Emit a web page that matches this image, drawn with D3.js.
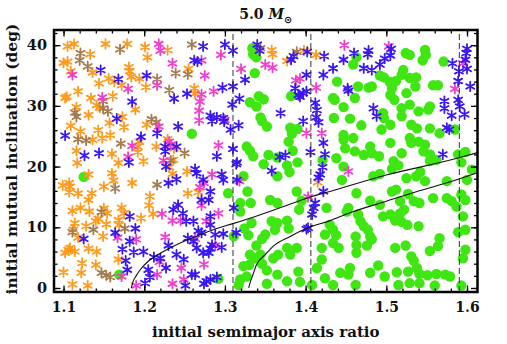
<!DOCTYPE html>
<html>
<head>
<meta charset="utf-8">
<script src="https://cdn.jsdelivr.net/npm/d3@7"></script>
<style>
  body { margin: 0; background: #fff; }
  svg { display: block; }
  text { font-family: "DejaVu Serif", serif; font-weight: bold; fill: #111; }
</style>
</head>
<body>
<svg id="chart" width="507" height="344"></svg>
<script>
// [semimajor axis ratio, mutual inclination in deg]
const orangeStars = [
  [1.105,39.8],[1.113,40.2],[1.152,40.2],[1.179,40.2],[1.201,39.7],[1.229,39.2],[1.133,38.5],[1.100,37.1],
  [1.105,37.3],[1.136,35.5],[1.204,38.0],[1.181,36.4],[1.182,35.7],[1.184,34.8],[1.109,35.7],[1.144,33.7],
  [1.156,34.5],[1.163,34.0],[1.172,33.4],[1.194,34.5],[1.255,36.1],[1.118,32.4],[1.102,31.3],[1.104,31.5],
  [1.134,31.3],[1.161,31.6],[1.202,33.1],[1.116,29.8],[1.141,30.1],[1.145,29.7],[1.189,29.4],[1.131,28.5],
  [1.157,27.2],[1.173,28.2],[1.203,26.9],[1.109,26.7],[1.121,25.8],[1.143,26.0],[1.175,26.5],[1.158,25.2],
  [1.148,24.7],[1.136,24.4],[1.194,24.1],[1.229,24.5],[1.192,23.3],[1.215,23.3],[1.237,23.0],[1.116,22.6],
  [1.160,22.1],[1.192,22.4],[1.117,20.6],[1.168,20.6],[1.236,21.1],
  [1.199,20.9],[1.231,19.9],[1.235,18.8],[1.253,19.2],[1.131,18.7],[1.099,16.9],[1.107,17.3],[1.108,16.7],
  [1.107,15.8],[1.118,15.6],[1.135,15.6],[1.131,14.5],[1.150,16.7],[1.162,17.7],[1.185,17.3],[1.207,15.1],
  [1.206,13.6],[1.254,15.6],[1.111,12.7],[1.121,13.2],[1.132,12.6],[1.150,13.1],[1.154,12.3],[1.172,13.2],
  [1.175,12.3],[1.168,11.2],[1.196,11.5],[1.211,12.2],[1.114,10.7],[1.128,10.2],[1.140,11.0],[1.143,11.4],
  [1.153,10.5],[1.112,9.6],[1.118,8.3],[1.149,8.5],[1.169,10.4],[1.102,5.8],[1.106,6.3],[1.108,6.6],
  [1.114,6.0],[1.131,6.5],[1.141,6.0],[1.123,4.1],[1.140,3.8],[1.122,2.5],[1.100,2.6],[1.111,0.6],
  [1.130,0.4],[1.168,4.7],[1.160,18.9],
  [1.262,32.9],[1.263,32.0],[1.413,38.4],[1.358,39.2],[1.359,38.5],[1.377,37.4],[1.398,39.1],
  [1.267,15.8],[1.415,17.4]
];

const brownStars = [
  [1.170,39.3],[1.121,38.7],[1.120,37.5],[1.130,36.5],[1.216,34.4],[1.239,35.4],[1.254,35.2],[1.149,30.8],
  [1.231,32.6],[1.114,28.9],[1.116,28.2],[1.149,29.6],[1.155,29.1],[1.209,27.8],[1.215,27.3],[1.118,24.5],
  [1.128,24.3],[1.171,23.8],[1.250,22.2],[1.233,21.0],[1.164,16.4],[1.216,17.0],[1.147,12.5],[1.137,9.6],
  [1.111,9.2],[1.176,9.8],[1.147,2.5],[1.153,2.1],[1.158,1.8],[1.259,40.1],[1.344,39.5],[1.389,38.9]
];

const magentaStars = [
  [1.218,40.2],[1.220,39.1],[1.235,37.0],[1.111,35.1],[1.216,33.4],[1.148,31.4],[1.180,32.8],[1.218,26.6],
  [1.231,24.1],[1.233,23.6],[1.185,23.4],[1.180,21.6],[1.224,21.0],
  [1.222,12.2],[1.235,11.1],[1.245,11.1],[1.167,8.3],[1.190,8.0],[1.226,8.4],[1.172,1.9],[1.219,4.3],
  [1.216,2.2],[1.190,0.4],[1.235,0.7],[1.249,1.4],[1.246,3.3],
  [1.295,38.4],[1.271,37.5],[1.275,35.0],[1.320,36.1],[1.286,32.4],[1.271,31.9],[1.269,30.7],[1.268,29.2],
  [1.268,27.6],[1.300,27.7],[1.350,36.8],[1.359,36.3],[1.388,34.2],[1.393,34.5],[1.413,33.0],[1.401,25.5],
  [1.420,25.5],[1.292,23.5],
  [1.274,17.3],[1.284,18.7],[1.269,16.6],[1.271,13.6],[1.318,17.6],[1.403,15.0],[1.292,12.3],[1.277,11.0],
  [1.263,8.1],[1.288,7.0],[1.274,3.9],
  [1.448,40.0],[1.503,39.8],[1.595,37.0],[1.585,32.8],[1.453,19.2]
];

const blueStars = [
  [1.262,37.5],[1.146,35.9],[1.168,34.4],[1.203,35.0],[1.237,31.2],[1.253,32.0],[1.185,30.7],[1.166,27.9],
  [1.242,26.6],[1.102,25.1],[1.196,24.9],[1.216,25.5],[1.226,23.3],[1.240,23.3],[1.126,21.8],[1.144,22.2],
  [1.226,22.5],[1.181,20.7],
  [1.227,20.0],[1.240,17.9],[1.230,17.3],[1.182,11.8],[1.236,12.9],[1.242,13.7],[1.248,12.3],[1.252,11.0],
  [1.189,9.8],[1.164,9.1],[1.125,8.1],[1.182,7.7],[1.230,7.0],[1.254,8.2],[1.261,7.7],[1.240,5.5],
  [1.249,4.7],[1.173,6.4],[1.187,5.9],[1.199,6.0],[1.177,4.5],[1.179,3.0],[1.212,5.1],[1.207,1.8],
  [1.205,3.0],[1.201,0.8],[1.251,0.4],[1.259,2.2],[1.227,3.3],[1.220,4.9],
  [1.266,37.3],[1.273,39.8],[1.300,40.1],[1.310,39.1],[1.325,34.3],[1.310,33.2],[1.297,33.0],[1.318,31.2],
  [1.309,30.2],[1.282,28.4],[1.284,27.5],[1.290,28.1],[1.298,28.0],[1.299,27.4],[1.369,28.8],[1.397,27.5],
  [1.317,26.8],[1.307,26.1],[1.412,30.5],[1.414,29.3],[1.413,28.1],[1.416,27.3],[1.401,35.1],[1.422,35.1],
  [1.423,38.2],[1.340,40.1],[1.343,39.1],[1.382,37.6],[1.385,38.2],[1.402,38.9],[1.387,32.9],[1.391,31.8],
  [1.397,32.1],[1.401,32.4],[1.393,31.5],[1.290,21.7],[1.310,22.9],[1.315,20.7],[1.375,21.9],[1.368,21.6],
  [1.406,22.4],[1.422,23.9],[1.424,22.0],
  [1.263,19.6],[1.265,18.9],[1.273,17.8],[1.296,18.7],[1.298,17.8],[1.282,15.9],[1.271,14.5],[1.280,14.5],
  [1.314,20.4],[1.315,17.8],[1.311,13.2],[1.314,9.1],[1.358,19.3],[1.421,19.9],[1.418,18.7],[1.416,18.2],
  [1.422,15.9],[1.412,14.0],[1.410,13.2],[1.408,12.1],[1.403,9.9],[1.401,9.7],[1.282,11.8],[1.282,10.4],
  [1.261,11.0],[1.267,9.4],[1.271,9.1],[1.288,8.8],[1.298,8.9],[1.284,7.1],[1.282,6.5],[1.280,5.8],
  [1.296,6.7],[1.265,6.6],[1.273,5.8],[1.263,2.2],[1.277,1.1],[1.274,0.7],[1.282,1.4],[1.290,1.8],
  [1.506,39.4],[1.460,38.7],[1.478,39.1],[1.477,38.5],[1.447,37.6],[1.434,36.2],[1.472,36.2],[1.482,35.9],
  [1.492,36.8],[1.498,37.8],[1.505,38.3],[1.582,37.0],[1.600,39.4],[1.599,38.7],[1.598,37.6],[1.600,36.1],
  [1.590,35.7],[1.589,34.1],[1.604,33.2],[1.589,31.0],[1.591,29.9],[1.597,28.6],[1.572,30.8],[1.572,29.6],
  [1.581,28.4],[1.575,26.4],[1.578,26.1],[1.452,32.9],[1.453,32.5],[1.484,29.6],[1.488,28.3],[1.570,22.0]
];

const greenDots = [
  [1.259,25.4],[1.125,18.3],[1.169,2.2],[1.292,1.5],
  [1.337,35.4],[1.331,30.6],[1.339,29.9],[1.342,31.6],[1.348,31.1],[1.344,28.1],[1.346,27.5],[1.352,26.6],
  [1.381,26.4],[1.390,26.2],[1.383,25.4],[1.379,24.1],[1.334,39.5],[1.335,38.5],[1.339,38.0],[1.382,31.6],
  [1.327,23.3],[1.331,22.6],[1.335,21.7],[1.354,21.9],[1.365,21.5],[1.384,22.6],[1.421,21.1],
  [1.348,20.4],[1.377,20.2],[1.380,19.1],[1.390,20.7],[1.365,18.4],[1.323,18.4],[1.328,15.9],[1.304,15.6],
  [1.319,14.0],[1.332,14.0],[1.319,12.6],[1.356,14.5],[1.365,14.0],[1.389,15.9],[1.395,14.4],[1.392,12.9],
  [1.333,10.7],[1.324,9.8],[1.358,11.0],[1.365,10.7],[1.377,11.1],[1.379,9.8],[1.362,9.6],[1.350,8.8],
  [1.346,8.1],[1.311,8.5],[1.329,8.7],[1.339,7.0],[1.344,5.5],[1.337,4.9],[1.331,5.5],[1.323,3.6],
  [1.330,3.8],[1.346,4.0],[1.352,2.9],[1.327,1.9],[1.319,1.4],[1.317,0.5],[1.352,0.7],[1.365,2.2],
  [1.366,5.5],[1.381,5.5],[1.377,6.6],[1.389,6.6],[1.391,2.7],[1.393,1.0],[1.377,1.1],[1.360,4.9],
  [1.426,13.2],[1.420,6.6],[1.420,4.7],[1.424,8.8],[1.414,3.3],[1.424,1.6],[1.408,0.5],
  [1.463,38.0],[1.459,36.8],[1.524,38.7],[1.529,38.4],[1.548,39.2],[1.549,38.4],[1.545,37.5],[1.571,37.3],
  [1.585,26.1],[1.439,34.0],[1.434,31.3],[1.465,33.2],[1.478,33.0],[1.482,33.2],[1.529,34.6],[1.537,34.7],
  [1.536,33.2],[1.558,33.4],[1.564,33.4],[1.521,35.9],[1.519,35.1],[1.492,35.0],[1.497,34.7],[1.504,34.0],
  [1.512,34.1],[1.507,32.9],[1.505,31.8],[1.510,31.0],[1.436,31.0],[1.447,29.8],[1.461,31.3],[1.435,28.0],
  [1.496,28.8],[1.497,28.0],[1.519,29.6],[1.519,28.3],[1.529,30.2],[1.554,29.9],[1.552,29.4],[1.540,29.1],
  [1.455,27.9],[1.469,26.8],[1.494,26.1],[1.505,26.9],[1.531,26.9],[1.538,26.3],[1.554,26.3],[1.566,25.5],
  [1.447,25.2],[1.447,24.4],[1.459,24.7],[1.529,24.7],[1.531,23.9],[1.540,24.1],[1.480,23.3],[1.482,22.2],
  [1.449,23.0],[1.461,22.5],[1.505,23.9],[1.519,22.2],[1.548,23.6],[1.546,22.5],[1.554,22.0],[1.472,21.9],
  [1.589,22.0],[1.598,22.4],[1.438,21.4],[1.491,21.7],[1.509,20.9],[1.562,21.1],[1.525,32.1],
  [1.447,20.0],[1.445,17.8],[1.484,18.4],[1.492,18.8],[1.507,19.6],[1.515,20.2],[1.525,18.1],[1.537,18.4],
  [1.542,19.1],[1.548,17.6],[1.554,20.9],[1.575,17.6],[1.593,20.7],[1.600,17.8],[1.606,19.5],[1.463,15.6],
  [1.480,14.4],[1.492,13.7],[1.507,15.9],[1.512,16.2],[1.517,14.3],[1.527,15.5],[1.534,14.3],[1.541,14.0],
  [1.558,14.8],[1.575,14.8],[1.581,14.3],[1.593,15.4],[1.598,14.5],[1.430,10.4],[1.434,9.6],[1.438,8.7],
  [1.434,7.4],[1.441,6.6],[1.451,12.6],[1.453,13.2],[1.465,12.1],[1.468,11.0],[1.472,10.2],[1.477,9.6],
  [1.480,8.5],[1.482,8.0],[1.476,7.0],[1.462,8.5],[1.463,7.1],[1.463,5.8],[1.496,11.8],[1.505,12.1],
  [1.511,11.1],[1.517,12.3],[1.522,12.9],[1.519,10.9],[1.526,10.4],[1.540,10.2],[1.511,6.6],[1.524,7.0],
  [1.531,5.2],[1.534,4.5],[1.527,2.7],[1.538,3.3],[1.541,2.3],[1.551,2.1],[1.562,2.3],[1.573,2.2],
  [1.595,4.9],[1.598,6.3],[1.566,8.2],[1.564,6.9],[1.554,6.1],[1.589,9.2],[1.598,9.6],[1.587,13.4],
  [1.595,11.8],[1.443,2.5],[1.455,3.3],[1.453,2.2],[1.462,0.5],[1.480,2.5],[1.490,3.7],[1.498,1.9],
  [1.513,2.6],[1.515,0.5],[1.529,0.8],[1.541,0.8],[1.560,0.4],[1.579,1.9],[1.593,0.4],[1.434,0.5]
];

// two stability boundaries
const upperCurve = [
  [1.184,0],[1.186,1.0],[1.190,2.0],[1.195,3.0],[1.205,4.4],[1.216,5.4],[1.235,6.8],[1.253,7.9],
  [1.270,8.8],[1.290,9.8],[1.310,10.6],[1.331,11.5],[1.370,13.3],[1.406,15.0],[1.430,15.9],[1.500,18.6],
  [1.589,21.4],[1.613,22.3]
];
const lowerCurve = [
  [1.3295,0],[1.331,0.8],[1.335,2.3],[1.339,3.8],[1.350,5.5],[1.360,6.9],[1.381,8.5],[1.401,9.8],
  [1.430,11.1],[1.455,12.4],[1.500,14.3],[1.538,15.9],[1.572,17.2],[1.613,19.0]
];
const dashedAt = [1.310, 1.4065, 1.5905];

const xTicks = [1.1, 1.2, 1.3, 1.4, 1.5, 1.6];
const yTicks = [0, 10, 20, 30, 40];
const xMinor = d3.range(1.1, 1.6101, 0.02);
const yMinor = d3.range(0, 42.1, 2);

const svg = d3.select("#chart");
const box = { left: 54, right: 477.5, top: 30, bottom: 292 };

const x = d3.scaleLinear().domain([1.0882, 1.613]).range([box.left, box.right]);
const y = d3.scaleLinear().domain([-0.66, 42.5]).range([box.bottom, box.top]);

svg.append("defs").append("clipPath").attr("id", "plotClip")
  .append("rect")
  .attr("x", box.left).attr("y", box.top)
  .attr("width", box.right - box.left).attr("height", box.bottom - box.top);

const plot = svg.append("g").attr("clip-path", "url(#plotClip)");

// green circles first, stars on top
plot.append("g").selectAll("circle")
  .data(greenDots)
  .join("circle")
  .attr("cx", d => x(d[0]))
  .attr("cy", d => y(d[1]))
  .attr("r", 5.2)
  .attr("fill", "#3fe612");

const star = d3.symbol().type(d3.symbolAsterisk).size(62);

function drawStars(data, color) {
  plot.append("g").selectAll("path")
    .data(data)
    .join("path")
    .attr("transform", d => `translate(${x(d[0])},${y(d[1])})`)
    .attr("d", star)
    .attr("fill", "none")
    .attr("stroke", color)
    .attr("stroke-width", 1.8)
    .attr("stroke-linecap", "round");
}

drawStars(orangeStars, "#ff9a1c");
drawStars(brownStars, "#a47a4e");
drawStars(magentaStars, "#f23ccc");
drawStars(blueStars, "#3a16f4");

// dashed verticals
plot.append("g").selectAll("line")
  .data(dashedAt)
  .join("line")
  .attr("x1", d => x(d)).attr("x2", d => x(d))
  .attr("y1", box.bottom).attr("y2", box.top)
  .attr("stroke", "#333")
  .attr("stroke-width", 1)
  .attr("stroke-dasharray", "6,3");

const line = d3.line()
  .x(d => x(d[0]))
  .y(d => y(d[1]))
  .curve(d3.curveMonotoneX);

[upperCurve, lowerCurve].forEach(c => {
  plot.append("path")
    .attr("d", line(c))
    .attr("fill", "none")
    .attr("stroke", "#111")
    .attr("stroke-width", 1.1);
});

// frame ticks (inward)
function tidy(g) {
  g.select(".domain").remove();
  g.selectAll(".tick line").attr("stroke", "#000").attr("stroke-width", 1.3);
}
function boldLabels(size) {
  return g => g.selectAll("text")
    .attr("font-size", size)
    .attr("font-family", "DejaVu Serif")
    .attr("font-weight", "bold")
    .attr("fill", "#111");
}

svg.append("g").attr("transform", `translate(0,${box.bottom})`)
  .call(d3.axisBottom(x).tickValues(xMinor).tickSize(-3.5).tickFormat(""))
  .call(tidy);
svg.append("g").attr("transform", `translate(0,${box.bottom})`)
  .call(d3.axisBottom(x).tickValues(xTicks).tickSize(-6.5).tickPadding(10).tickFormat(d3.format(".1f")))
  .call(tidy)
  .call(boldLabels(14));

svg.append("g").attr("transform", `translate(0,${box.top})`)
  .call(d3.axisTop(x).tickValues(xMinor).tickSize(-3.5).tickFormat(""))
  .call(tidy);
svg.append("g").attr("transform", `translate(0,${box.top})`)
  .call(d3.axisTop(x).tickValues(xTicks).tickSize(-6.5).tickFormat(""))
  .call(tidy);

svg.append("g").attr("transform", `translate(${box.left},0)`)
  .call(d3.axisLeft(y).tickValues(yMinor).tickSize(-3.5).tickFormat(""))
  .call(tidy);
svg.append("g").attr("transform", `translate(${box.left},0)`)
  .call(d3.axisLeft(y).tickValues(yTicks).tickSize(-6.5).tickPadding(7))
  .call(tidy)
  .call(boldLabels(14.5));

svg.append("g").attr("transform", `translate(${box.right},0)`)
  .call(d3.axisRight(y).tickValues(yMinor).tickSize(-3.5).tickFormat(""))
  .call(tidy);
svg.append("g").attr("transform", `translate(${box.right},0)`)
  .call(d3.axisRight(y).tickValues(yTicks).tickSize(-6.5).tickFormat(""))
  .call(tidy);

svg.append("rect")
  .attr("x", box.left).attr("y", box.top)
  .attr("width", box.right - box.left).attr("height", box.bottom - box.top)
  .attr("fill", "none")
  .attr("stroke", "#000")
  .attr("stroke-width", 2.5);

// labels
svg.append("text")
  .attr("x", (box.left + box.right) / 2)
  .attr("y", 337)
  .attr("text-anchor", "middle")
  .attr("font-size", 15)
  .text("initial semimajor axis ratio");

svg.append("text")
  .attr("transform", `translate(17,${(box.top + box.bottom) / 2 - 2}) rotate(-90)`)
  .attr("text-anchor", "middle")
  .attr("font-size", 15.5)
  .text("initial mutual inclination (deg)");

const title = svg.append("text")
  .attr("x", (box.left + box.right) / 2)
  .attr("y", 19)
  .attr("text-anchor", "middle")
  .attr("font-size", 14);
title.append("tspan").text("5.0 ");
title.append("tspan").attr("font-style", "italic").text("M");
title.append("tspan").attr("font-size", 10).attr("dy", 4).attr("font-family", "DejaVu Sans").text("\u2299");
</script>
</body>
</html>
